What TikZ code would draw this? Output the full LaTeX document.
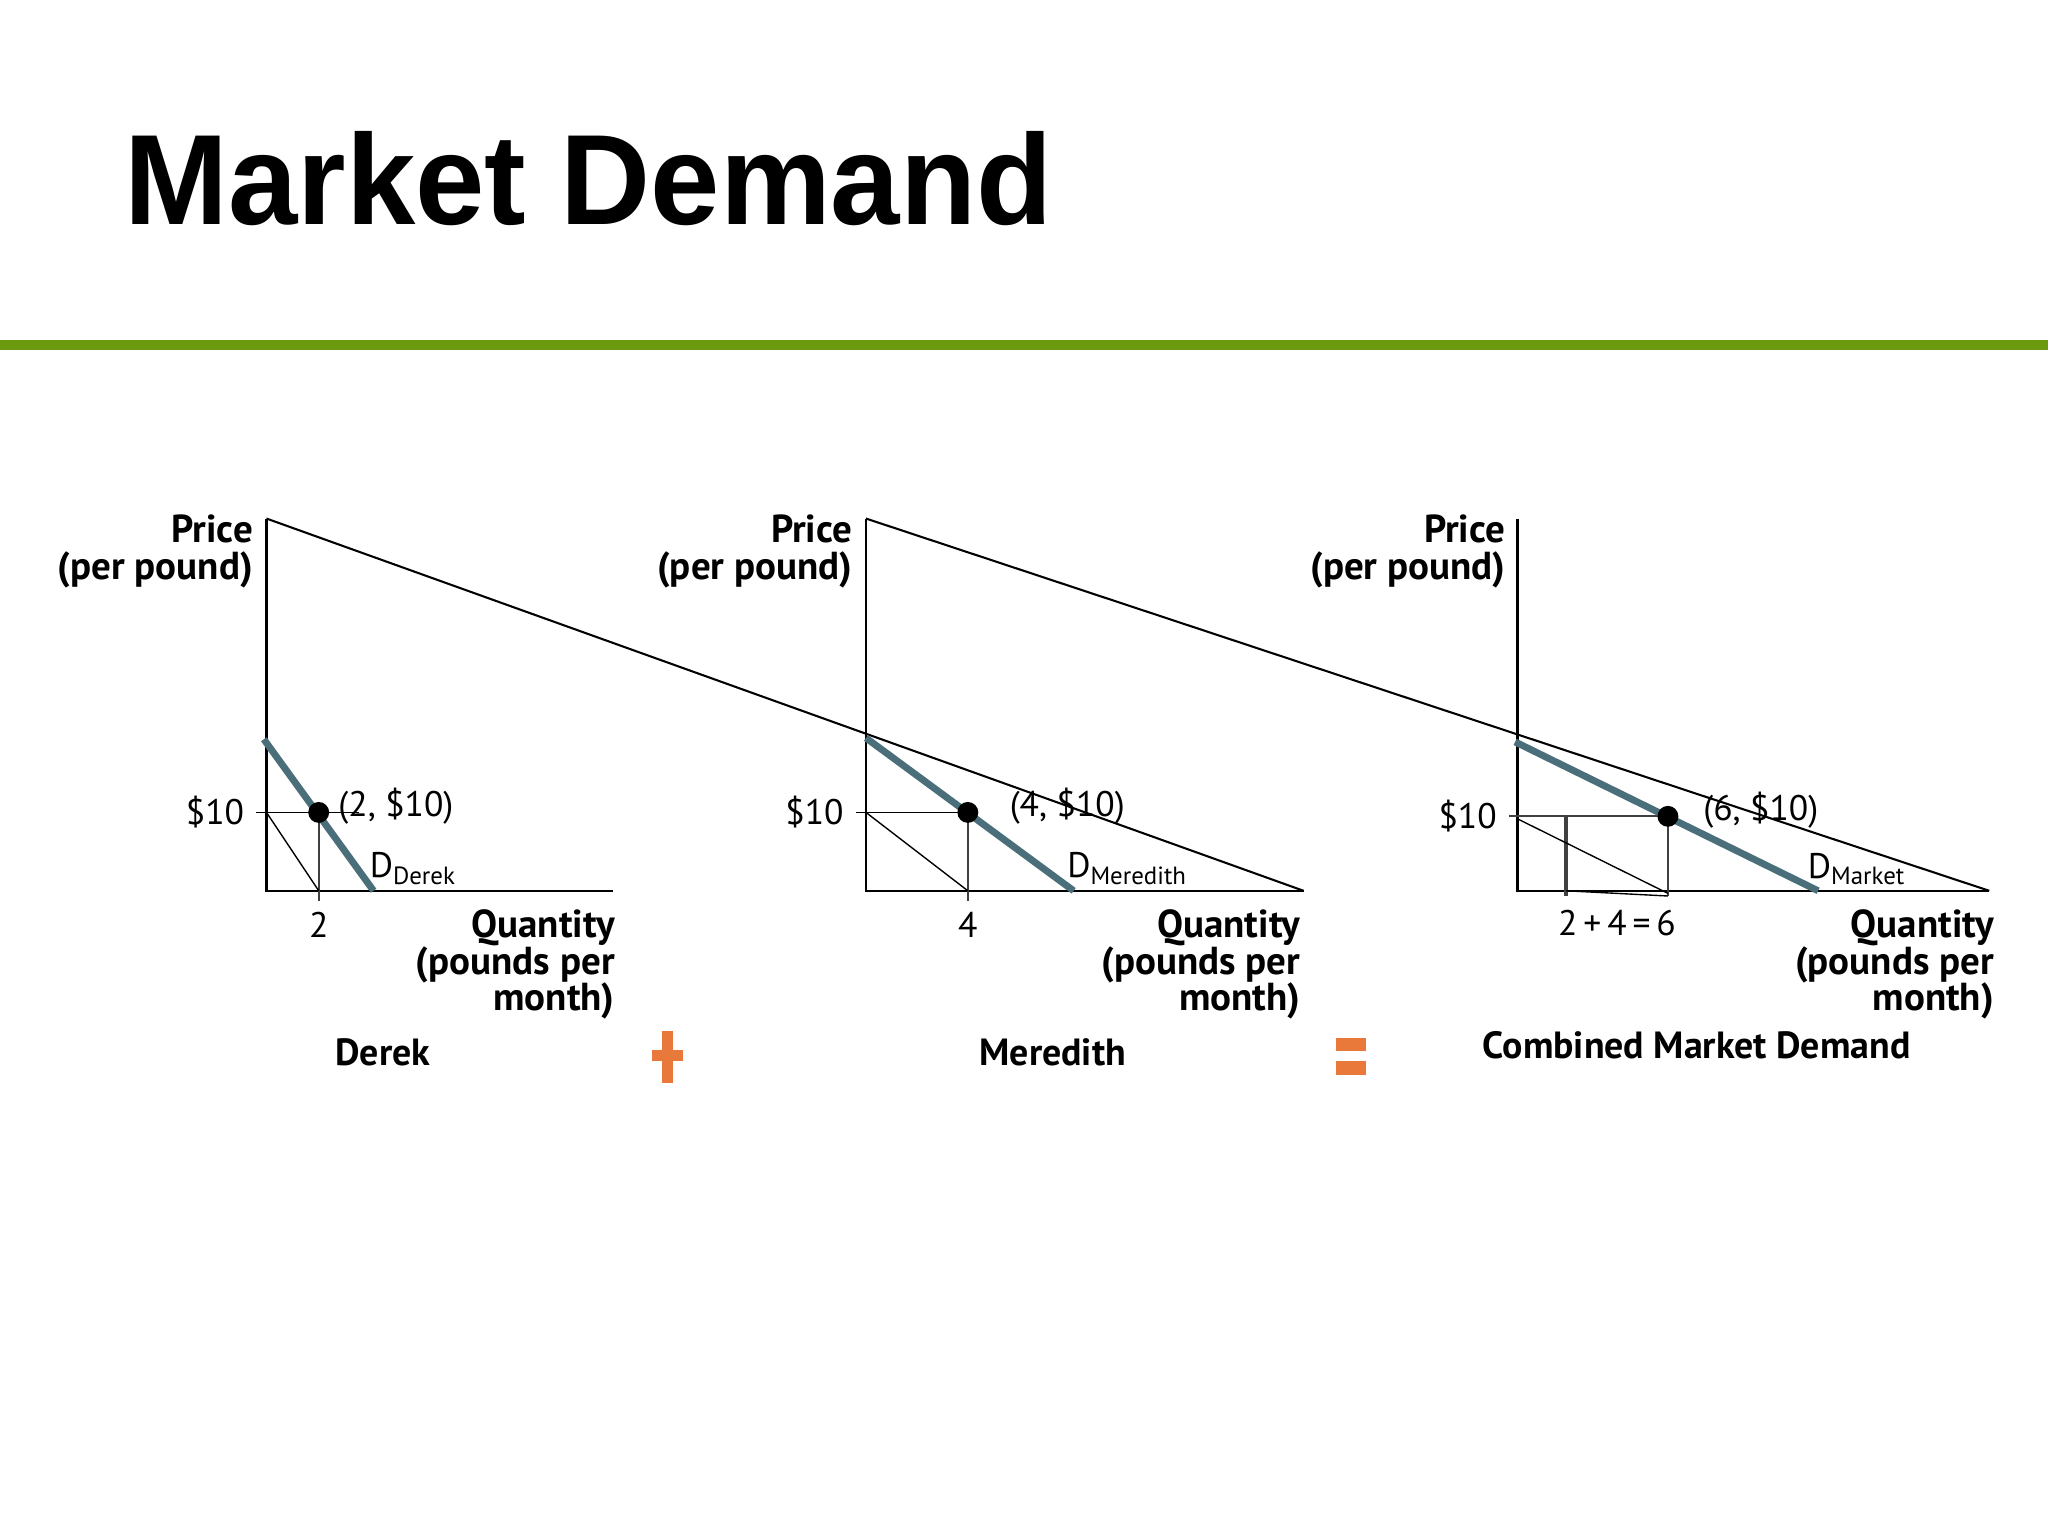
\documentclass[tikz,border=0pt]{standalone}
\usepackage{fontspec}
\setmainfont{PT Sans}
\newfontfamily\titlefont{Liberation Sans}
\definecolor{grn}{HTML}{6B9A10}
\definecolor{dblue}{HTML}{4A6E7A}
\definecolor{orng}{HTML}{E8793A}
\tikzset{
  ax/.style={line width=1.1pt,black},
  thin/.style={line width=0.6pt,black},
  gline/.style={line width=1pt,black!75},
  dcurve/.style={line width=3pt,dblue},
  dotp/.style={circle,fill=black,inner sep=0pt,minimum size=0.32cm},
  lab/.style={font=\fontsize{15.5}{18}\selectfont,inner sep=1pt},
  axlab/.style={font=\bfseries\fontsize{17}{16}\selectfont,align=right,anchor=north east,inner sep=0pt},
  pname/.style={font=\bfseries\fontsize{16.5}{18}\selectfont,inner sep=0pt}
}
\begin{document}
\begin{tikzpicture}[x=0.02cm,y=-0.02cm]
\useasboundingbox (0,0) rectangle (1568,1176);
\fill[white] (0,0) rectangle (1568,1176);
\node[anchor=base west,inner sep=0pt,font=\titlefont\bfseries\fontsize{56}{56}\selectfont] (title) at (95,172) {\scalebox{0.97}[1]{Market Demand}};
\fill[grn] (0,260) rectangle (1568,268);
% long lines
\coordinate (A1) at (204,397); \coordinate (E2) at (998,682);
\coordinate (A2) at (663,397); \coordinate (E3) at (1523,682);
\draw[thin,line width=0.9pt] (A1) -- (E2);
\draw[thin,line width=0.9pt] (A2) -- (E3);
% panel 1
\coordinate (O1) at (204,682); \coordinate (X1) at (469,682);
\draw[ax] (A1) -- (O1) -- (X1);
\coordinate (T1) at (196,622); \coordinate (H1) at (275,622); \coordinate (Y1) at (204,622);
\coordinate (B1) at (244,690); \coordinate (Q1) at (244,682);
\draw[thin] (T1) -- (H1);
\draw[gline] (244,622) -- (B1);
\draw[thin] (Y1) -- (Q1);
\coordinate (C1a) at (202,566); \coordinate (C1b) at (286,682);
\draw[dcurve] (C1a) -- (C1b);
\node[dotp] (P1) at (244,622) {};
\node[lab,anchor=west] (L1) at (257,617) {(2, \$10)};
\node[lab,anchor=west] (D1) at (281,665) {D\textsubscript{Derek}};
\node[lab] (n2) at (244,708) {2};
\node[lab,anchor=east] (p1) at (189,622) {\$10};
\node[axlab] (pr1) at (194,394) {Price\\(per pound)};
\node[axlab] (qt1) at (471,696) {Quantity\\(pounds per\\month)};
\node[pname] (der) at (293,806) {Derek};
% panel 2
\coordinate (O2) at (663,682);
\draw[ax] (A2) -- (O2) -- (E2);
\coordinate (T2) at (655,622); \coordinate (Y2) at (663,622);
\coordinate (B2) at (741,690); \coordinate (Q2) at (741,682);
\draw[thin] (T2) -- (741,622);
\draw[gline] (741,622) -- (B2);
\draw[thin] (Y2) -- (Q2);
\coordinate (C2a) at (663,565); \coordinate (C2b) at (822,682);
\draw[dcurve] (C2a) -- (C2b);
\node[dotp] (P2) at (741,622) {};
\node[lab,anchor=west] (L2) at (771,617) {(4, \$10)};
\node[lab,anchor=west] (D2) at (815,665) {D\textsubscript{Meredith}};
\node[lab] (n4) at (741,708) {4};
\node[lab,anchor=east] (p2) at (648,622) {\$10};
\node[axlab] (pr2) at (653,394) {Price\\(per pound)};
\node[axlab] (qt2) at (996,696) {Quantity\\(pounds per\\month)};
\node[pname] (mer) at (806,806) {Meredith};
% panel 3
\coordinate (A3) at (1162,397); \coordinate (O3) at (1162,682);
\draw[ax] (A3) -- (O3) -- (E3);
\coordinate (T3) at (1155,625); \coordinate (Y3) at (1162,627);
\coordinate (B3) at (1277,686); \coordinate (Q3) at (1277,684);
\coordinate (V3a) at (1199,625); \coordinate (V3b) at (1199,686);
\draw[gline] (T3) -- (1277,625);
\draw[gline] (1277,625) -- (B3);
\draw[gline,line width=1.5pt] (V3a) -- (V3b);
\draw[thin] (Y3) -- (Q3);
\draw[thin] (1199,682) -- (B3);
\coordinate (C3a) at (1160,568); \coordinate (C3b) at (1392,682);
\draw[dcurve] (C3a) -- (C3b);
\node[dotp] (P3) at (1277,625) {};
\node[lab,anchor=west] (L3) at (1302,620) {(6, \$10)};
\node[lab,anchor=west] (D3) at (1382,665) {D\textsubscript{Market}};
\node[lab] (n6) at (1238,707) {2\,+\,4\,=\,6};
\node[lab,anchor=east] (p3) at (1148,625) {\$10};
\node[axlab] (pr3) at (1153,394) {Price\\(per pound)};
\node[axlab] (qt3) at (1527,696) {Quantity\\(pounds per\\month)};
\node[pname] (cmd) at (1299,800) {Combined Market Demand};
% operators
\coordinate (pa) at (511,789); \coordinate (pb) at (511,829);
\coordinate (pc) at (499,808); \coordinate (pd) at (523,808);
\draw[orng,line width=4.5pt] (pa) -- (pb);
\draw[orng,line width=4.5pt] (pc) -- (pd);
\fill[orng] (1023,795) rectangle (1046,805);
\fill[orng] (1023,812) rectangle (1046,823);
\end{tikzpicture}
\end{document}
